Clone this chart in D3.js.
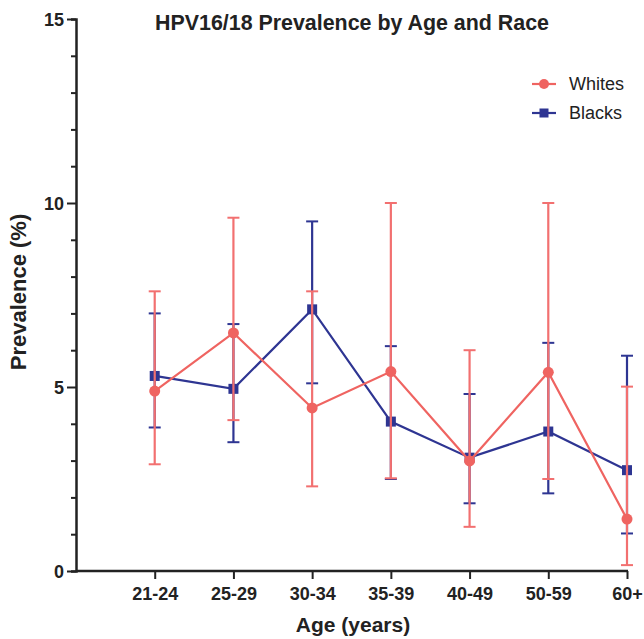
<!DOCTYPE html>
<html lang="en">
<head>
<meta charset="utf-8">
<title>HPV16/18 Prevalence</title>
<script src="https://d3js.org/d3.v7.min.js"></script>
<style>
  body { margin: 0; background: white; }
  text { font-family: "Liberation Sans", Arial, sans-serif; }
  .tick text { font-weight: bold; font-size: 18px; fill: #222; }
</style>
</head>
<body>
<div id="main"></div>
<script>
var width = 644, height = 639;

// data
var ages = ["21-24", "25-29", "30-34", "35-39", "40-49", "50-59", "60+"];
var whites = [4.89, 6.47, 4.43, 5.42, 2.99, 5.40, 1.41];
var whitesLow = [2.9, 4.1, 2.3, 2.52, 1.2, 2.5, 0.16];
var whitesHigh = [7.6, 9.6, 7.6, 10.0, 6.0, 10.0, 5.01];
var blacks = [5.3, 4.95, 7.11, 4.06, 3.08, 3.79, 2.74];
var blacksLow = [3.9, 3.5, 5.1, 2.5, 1.84, 2.11, 1.02];
var blacksHigh = [7.0, 6.71, 9.5, 6.11, 4.81, 6.2, 5.85];
var yTicks = [0, 5, 10, 15];

var red = "#ef6461", redBar = "#f27070", blue = "#2e3592";

var svg = d3.select("#main").append("svg")
    .attr("width", width).attr("height", height);

var x = d3.scaleLinear().domain([-1, ages.length - 1]).range([76, 627]);
var y = d3.scaleLinear().domain([0, 15]).range([571, 19]);

// y axis
var yAxis = svg.append("g").attr("transform", "translate(76,0)");
yAxis.call(d3.axisLeft(y).tickValues(d3.range(0, 16)).tickSize(5).tickFormat(""));
yAxis.call(function(g) {
  g.selectAll(".tick line").attr("stroke", "#222").attr("stroke-width", 2);
  g.selectAll(".tick").filter(function(d) { return yTicks.indexOf(d) >= 0; })
    .select("line").attr("x2", -9);
  g.selectAll(".tick").filter(function(d) { return yTicks.indexOf(d) >= 0; })
    .append("text").attr("x", -12).attr("dy", "0.35em").attr("text-anchor", "end")
    .attr("fill", "#222").text(function(d) { return d; });
  g.select(".domain").attr("stroke", "#222").attr("stroke-width", 2.5);
});

// x axis
var xAxis = svg.append("g").attr("transform", "translate(0,571)")
  .call(d3.axisBottom(x).tickValues(d3.range(ages.length)).tickSize(8)
    .tickPadding(8).tickFormat(function(i) { return ages[i]; }));
xAxis.select(".domain").attr("stroke", "#222").attr("stroke-width", 2.5)
  .attr("d", "M76,0H628");
xAxis.selectAll(".tick line").attr("stroke", "#222").attr("stroke-width", 2);

function drawSeries(vals, lo, hi, lineColor, barColor, marker) {
  var g = svg.append("g");
  var bars = g.selectAll(".err").data(vals).enter().append("g");
  bars.append("line")
    .attr("x1", function(d, i) { return x(i); }).attr("x2", function(d, i) { return x(i); })
    .attr("y1", function(d, i) { return y(lo[i]); }).attr("y2", function(d, i) { return y(hi[i]); })
    .attr("stroke", barColor).attr("stroke-width", 2.2);
  [lo, hi].forEach(function(arr) {
    bars.append("line")
      .attr("x1", function(d, i) { return x(i) - 6; }).attr("x2", function(d, i) { return x(i) + 6; })
      .attr("y1", function(d, i) { return y(arr[i]); }).attr("y2", function(d, i) { return y(arr[i]); })
      .attr("stroke", barColor).attr("stroke-width", 2);
  });
  g.append("path").datum(vals)
    .attr("fill", "none").attr("stroke", lineColor).attr("stroke-width", 2.2)
    .attr("d", d3.line().x(function(d, i) { return x(i); }).y(function(d) { return y(d); }));
  if (marker === "circle") {
    g.selectAll("circle").data(vals).enter().append("circle")
      .attr("cx", function(d, i) { return x(i); }).attr("cy", function(d) { return y(d); })
      .attr("r", 5.5).attr("fill", lineColor);
  } else {
    g.selectAll("rect").data(vals).enter().append("rect")
      .attr("x", function(d, i) { return x(i) - 5; }).attr("y", function(d) { return y(d) - 5; })
      .attr("width", 10).attr("height", 10).attr("fill", lineColor);
  }
}

drawSeries(blacks, blacksLow, blacksHigh, blue, blue, "square");
drawSeries(whites, whitesLow, whitesHigh, red, redBar, "circle");

// title and axis labels
svg.append("text").attr("x", 352).attr("y", 30).attr("text-anchor", "middle")
  .attr("font-weight", "bold").attr("font-size", 21.4).attr("fill", "#222")
  .text("HPV16/18 Prevalence by Age and Race");
svg.append("text").attr("x", 353).attr("y", 632).attr("text-anchor", "middle")
  .attr("font-weight", "bold").attr("font-size", 21).attr("fill", "#222")
  .text("Age (years)");
svg.append("text").attr("transform", "translate(26,292) rotate(-90)").attr("text-anchor", "middle")
  .attr("font-weight", "bold").attr("font-size", 22).attr("fill", "#222")
  .text("Prevalence (%)");

// legend
var legend = [["Whites", red, "circle"], ["Blacks", blue, "square"]];
var lg = svg.selectAll(".leg").data(legend).enter().append("g")
  .attr("transform", function(d, i) { return "translate(532," + (84 + i * 29) + ")"; });
lg.append("line").attr("x1", 0).attr("x2", 24).attr("stroke", function(d) { return d[1]; })
  .attr("stroke-width", 2.2);
lg.filter(function(d) { return d[2] === "circle"; }).append("circle")
  .attr("cx", 12).attr("r", 5).attr("fill", function(d) { return d[1]; });
lg.filter(function(d) { return d[2] === "square"; }).append("rect")
  .attr("x", 7.5).attr("y", -4.5).attr("width", 9).attr("height", 9).attr("fill", function(d) { return d[1]; });
lg.append("text").attr("x", 37).attr("dy", "0.35em").attr("font-size", 18).attr("fill", "#222")
  .text(function(d) { return d[0]; });
</script>
</body>
</html>
